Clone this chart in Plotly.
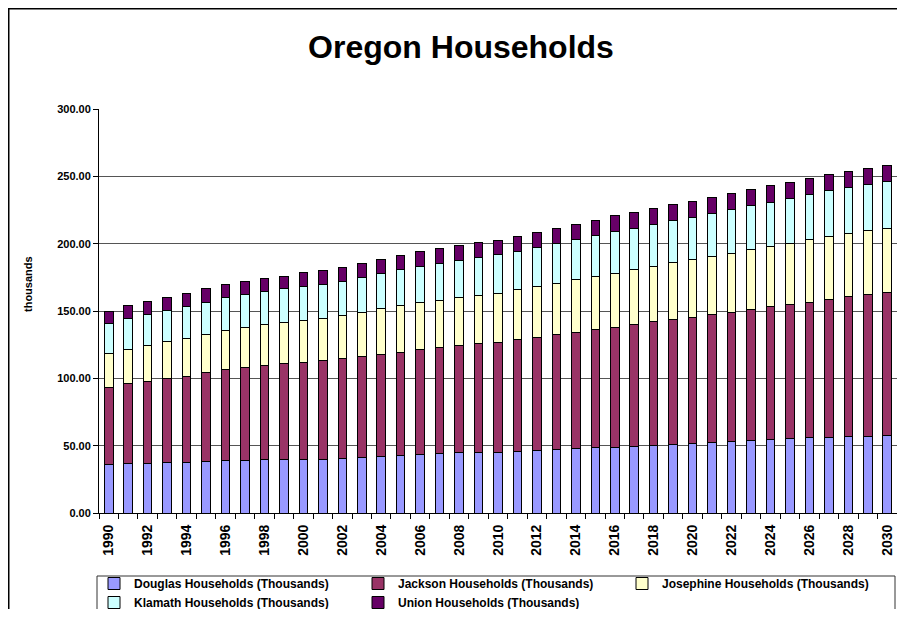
import plotly.graph_objects as go

years = list(range(1990, 2031))
tick_years = years[::2]
tick_labels = [str(y) for y in tick_years]

douglas = [35.9, 36.4, 36.9, 37.4, 37.7, 38.4, 38.9, 39.2, 39.5, 39.7,
           39.9, 39.9, 40.4, 41.1, 41.9, 42.9, 43.6, 44.1, 44.6, 45.1,
           45.2, 45.8, 46.6, 47.3, 47.8, 48.6, 49.0, 49.6, 50.1, 50.8,
           51.6, 52.3, 53.0, 53.8, 54.3, 55.0, 55.7, 56.2, 56.8, 57.0, 57.5]
jackson = [57.3, 59.5, 60.9, 62.4, 63.6, 65.6, 67.6, 68.8, 70.0, 71.0,
           72.1, 73.3, 74.2, 75.2, 76.0, 76.5, 77.8, 79.0, 79.5, 80.7,
           81.6, 82.7, 83.7, 85.0, 86.5, 87.6, 89.0, 90.4, 91.8, 92.9,
           93.8, 95.3, 96.1, 97.3, 98.7, 99.8, 100.8, 102.6, 103.7, 105.0, 105.9]
josephine = [25.2, 25.7, 26.6, 27.3, 28.3, 28.8, 29.2, 29.7, 30.2, 31.0,
             31.3, 31.4, 32.0, 32.8, 33.7, 34.4, 34.6, 34.9, 35.9, 35.9,
             36.5, 37.2, 37.6, 38.1, 38.8, 39.4, 40.1, 40.8, 41.4, 42.0,
             42.9, 43.1, 43.8, 44.6, 44.9, 45.6, 46.3, 46.8, 47.1, 47.8, 48.1]
klamath = [22.3, 22.8, 23.0, 23.3, 23.5, 23.7, 24.3, 24.8, 25.1, 25.0,
           25.1, 25.4, 25.4, 26.1, 26.4, 27.0, 27.3, 27.5, 27.7, 28.0,
           28.4, 28.7, 29.3, 29.7, 29.7, 30.2, 30.7, 30.7, 31.0, 31.2,
           31.5, 32.0, 32.5, 32.4, 32.9, 33.2, 33.8, 33.6, 33.9, 34.2, 34.7]
union = [9.2, 9.7, 9.6, 9.9, 9.9, 9.9, 9.9, 9.4, 9.4, 9.1,
         10.2, 10.0, 10.3, 10.3, 10.5, 10.4, 10.6, 10.6, 10.9, 11.2,
         11.0, 11.2, 11.1, 11.2, 11.7, 11.7, 11.9, 11.7, 11.6, 11.9,
         11.7, 11.8, 12.1, 12.2, 12.2, 12.1, 11.9, 11.9, 12.1, 11.9, 12.1]

series_names = ["Douglas Households (Thousands)", "Jackson Households (Thousands)",
                "Josephine Households (Thousands)", "Klamath Households (Thousands)",
                "Union Households (Thousands)"]
series_values = [douglas, jackson, josephine, klamath, union]
series_colors = ["#9999FF", "#993366", "#FFFFCC", "#CCFFFF", "#660066"]

FONT = "Liberation Sans, Arial, sans-serif"

fig = go.Figure()
for name, vals, col in zip(series_names, series_values, series_colors):
    fig.add_trace(go.Bar(
        x=years, y=vals, name=name,
        marker=dict(color=col, line=dict(color="black", width=1)),
    ))

# the page places the figure 8px in from the top-left (default body margin);
# size the figure so that it fits the window without overflow
OFF = 8
W, H = 905 - 2 * OFF, 617 - 2 * OFF
L, R, T, B = 91, 0, 101, 96
pw = W - L - R
ph = H - T - B

def fx(page_x):
    return (page_x - OFF - L) / pw

def fy(page_y):
    return (H - B - (page_y - OFF)) / ph

fig.update_layout(
    width=W, height=H,
    margin=dict(l=L, r=R, t=T, b=B, pad=0, autoexpand=False),
    barmode="stack",
    bargap=0.56,
    paper_bgcolor="white",
    plot_bgcolor="white",
    font=dict(family=FONT, color="black"),
    title=dict(text="Oregon Households", xref="container", x=(461 - OFF) / W,
               xanchor="center", yref="container", y=1 - 39 / H, yanchor="middle",
               font=dict(family=FONT, size=32, weight="bold", color="black")),
    xaxis=dict(
        type="linear", range=[1989.5, 2030.5],
        tickmode="array", tickvals=tick_years, ticktext=tick_labels,
        tickangle=-90, ticks="", ticklabelstandoff=5,
        tickfont=dict(family=FONT, size=14, weight="bold", color="black"),
        showline=True, linecolor="black", linewidth=1,
        showgrid=False, zeroline=False,
        minor=dict(ticks="outside", tick0=1989.5, dtick=1, ticklen=5,
                   tickcolor="black", showgrid=False),
    ),
    yaxis=dict(
        range=[0, 300], dtick=50, tick0=0, tickformat=".2f",
        ticks="outside", ticklen=5, tickcolor="black",
        tickfont=dict(family=FONT, size=11, weight="bold", color="black"),
        showline=True, linecolor="black", linewidth=1,
        showgrid=True, gridcolor="#555555", gridwidth=1, zeroline=False,
    ),
    legend=dict(
        orientation="h", x=fx(94), y=fy(569), xanchor="left", yanchor="top",
        borderwidth=0, bgcolor="rgba(0,0,0,0)",
        font=dict(family=FONT, size=12, weight="bold", color="black"),
        entrywidth=219, entrywidthmode="pixels", itemwidth=30,
        traceorder="normal", tracegroupgap=0,
    ),
    showlegend=True,
    annotations=[dict(
        text="thousands", xref="paper", yref="paper",
        x=fx(28), y=fy(284), xanchor="center", yanchor="middle",
        textangle=-90, showarrow=False,
        font=dict(family=FONT, size=11, weight="bold", color="black"),
    )],
    shapes=[
        dict(type="rect", xref="paper", yref="paper",
             x0=(0.75 - L) / pw, x1=1.1, y0=(H - B - 0.75) / ph, y1=-0.5,
             line=dict(color="black", width=1.5), fillcolor="rgba(0,0,0,0)",
             layer="above"),
        dict(type="rect", xref="paper", yref="paper",
             x0=fx(97), x1=fx(895), y0=fy(576), y1=fy(660),
             line=dict(color="#333333", width=1), fillcolor="rgba(0,0,0,0)",
             layer="above"),
    ],
)

fig.write_html("out.html")
